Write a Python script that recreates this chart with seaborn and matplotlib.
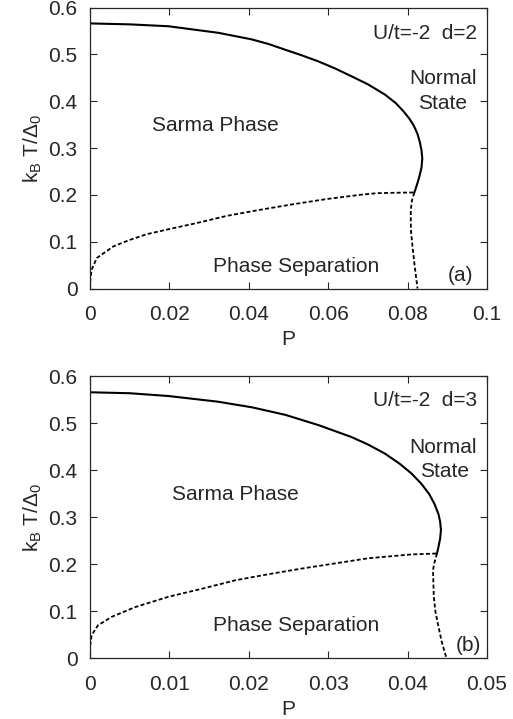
import matplotlib
matplotlib.use("Agg")
import matplotlib.pyplot as plt
import seaborn as sns

# ---------------- data ----------------
# panel (a): U/t=-2, d=2
a_solid_P = [0.0, 0.0100, 0.0197, 0.0323, 0.0407, 0.0450, 0.0491, 0.0533, 0.0575,
             0.0617, 0.0659, 0.0700, 0.0743, 0.0770, 0.0790, 0.0805, 0.0816,
             0.0825, 0.0831, 0.0835, 0.0837, 0.0835, 0.0829, 0.0823, 0.0817]
a_solid_T = [0.566, 0.564, 0.560, 0.546, 0.532, 0.522, 0.510, 0.498, 0.485,
             0.470, 0.453, 0.436, 0.414, 0.396, 0.378, 0.362, 0.347,
             0.330, 0.312, 0.295, 0.278, 0.258, 0.237, 0.220, 0.205]
a_low_P = [0.0, 0.0001, 0.0004, 0.0017, 0.0059, 0.0101, 0.0143, 0.0200, 0.0265,
           0.0344, 0.0428, 0.0512, 0.0596, 0.0680, 0.0722, 0.0770, 0.0817]
a_low_T = [0.0, 0.020, 0.040, 0.065, 0.090, 0.104, 0.116, 0.127, 0.139,
           0.155, 0.168, 0.180, 0.191, 0.200, 0.2035, 0.2045, 0.205]
a_vert_P = [0.0817, 0.0811, 0.0808, 0.0808, 0.0809, 0.0814, 0.0819, 0.0825]
a_vert_T = [0.205, 0.188, 0.168, 0.140, 0.118, 0.076, 0.040, 0.0]

# panel (b): U/t=-2, d=3
b_solid_P = [0.0, 0.0050, 0.0099, 0.0161, 0.0204, 0.0246, 0.0288, 0.0329, 0.0350,
             0.0371, 0.0390, 0.0405, 0.0417, 0.0427, 0.0434, 0.0439, 0.0441,
             0.0442, 0.0441, 0.0439, 0.0437]
b_solid_T = [0.566, 0.564, 0.558, 0.546, 0.534, 0.518, 0.496, 0.471, 0.455,
             0.436, 0.414, 0.393, 0.372, 0.350, 0.328, 0.306, 0.290,
             0.273, 0.255, 0.238, 0.223]
b_low_P = [0.0, 0.0000, 0.0002, 0.0010, 0.0027, 0.0057, 0.0099, 0.0141, 0.0183,
           0.0225, 0.0267, 0.0309, 0.0351, 0.0385, 0.0405, 0.0437]
b_low_T = [0.0, 0.024, 0.049, 0.070, 0.088, 0.109, 0.131, 0.148, 0.166,
           0.179, 0.191, 0.202, 0.213, 0.218, 0.221, 0.223]
b_vert_P = [0.0437, 0.0434, 0.0432, 0.0433, 0.0435, 0.0438, 0.0443, 0.0449]
b_vert_T = [0.223, 0.205, 0.188, 0.131, 0.100, 0.0745, 0.035, 0.0]

a_xticks = [0, 0.02, 0.04, 0.06, 0.08, 0.1]
a_xlabels = ["0", "0.02", "0.04", "0.06", "0.08", "0.1"]
b_xticks = [0, 0.01, 0.02, 0.03, 0.04, 0.05]
b_xlabels = ["0", "0.01", "0.02", "0.03", "0.04", "0.05"]
yticks = [0, 0.1, 0.2, 0.3, 0.4, 0.5, 0.6]
ylabels = ["0", "0.1", "0.2", "0.3", "0.4", "0.5", "0.6"]

a_title = "U/t=-2  d=2"
b_title = "U/t=-2  d=3"

# ---------------- style ----------------
sns.set_style("ticks")
plt.rcParams["font.family"] = ["Liberation Sans", "DejaVu Sans"]
plt.rcParams["mathtext.fontset"] = "custom"
plt.rcParams["mathtext.rm"] = "Liberation Sans"
plt.rcParams["mathtext.it"] = "Liberation Sans"
FS = 15

fig = plt.figure(figsize=(5.13, 7.19), dpi=100)
ax_a = fig.add_axes([90 / 513, 1 - 288.5 / 719, 397 / 513, 281 / 719])
ax_b = fig.add_axes([90 / 513, 1 - 658.3 / 719, 397 / 513, 282 / 719])

dash = (0, (2.2, 1.3))


def draw(ax, sP, sT, lP, lT, vP, vT, xmax, xt, xl, lab):
    sns.lineplot(x=sP, y=sT, ax=ax, sort=False, estimator=None, color="black",
                 lw=1.5)
    sns.lineplot(x=lP, y=lT, ax=ax, sort=False, estimator=None, color="black",
                 lw=1.3, linestyle=dash)
    sns.lineplot(x=vP, y=vT, ax=ax, sort=False, estimator=None, color="black",
                 lw=1.3, linestyle=dash)
    ax.set_xlim(0, xmax)
    ax.set_ylim(0, 0.6)
    ax.set_xticks(xt)
    ax.set_xticklabels(xl)
    ax.set_yticks(yticks)
    ax.set_yticklabels(ylabels)
    ax.tick_params(direction="in", length=5, width=0.8, top=True, right=True,
                   labelsize=FS)
    ax.tick_params(axis="x", pad=12)
    ax.tick_params(axis="y", pad=9)
    for s in ax.spines.values():
        s.set_linewidth(0.9)
        s.set_visible(True)
    ax.set_xlabel("P", fontsize=FS, labelpad=4)
    ax.set_ylabel(r"$\mathrm{k_B\ T/\Delta_0}$", fontsize=FS, labelpad=3)
    for txt, (x, y, ha) in lab.items():
        ax.text(x, y, txt, fontsize=FS, ha=ha, va="center")


draw(ax_a, a_solid_P, a_solid_T, a_low_P, a_low_T, a_vert_P, a_vert_T, 0.1,
     a_xticks, a_xlabels,
     {a_title: (0.0974, 0.545, "right"),
      "Normal": (0.0888, 0.448, "center"),
      "State": (0.0888, 0.396, "center"),
      "Sarma Phase": (0.0317, 0.347, "center"),
      "Phase Separation": (0.0518, 0.048, "center"),
      "(a)": (0.0932, 0.027, "center")})

draw(ax_b, b_solid_P, b_solid_T, b_low_P, b_low_T, b_vert_P, b_vert_T, 0.05,
     b_xticks, b_xlabels,
     {b_title: (0.0487, 0.548, "right"),
      "Normal": (0.0444, 0.449, "center"),
      "State": (0.0447, 0.398, "center"),
      "Sarma Phase": (0.01826, 0.349, "center"),
      "Phase Separation": (0.0259, 0.069, "center"),
      "(b)": (0.0476, 0.027, "center")})

fig.savefig("out.png", dpi=100)
